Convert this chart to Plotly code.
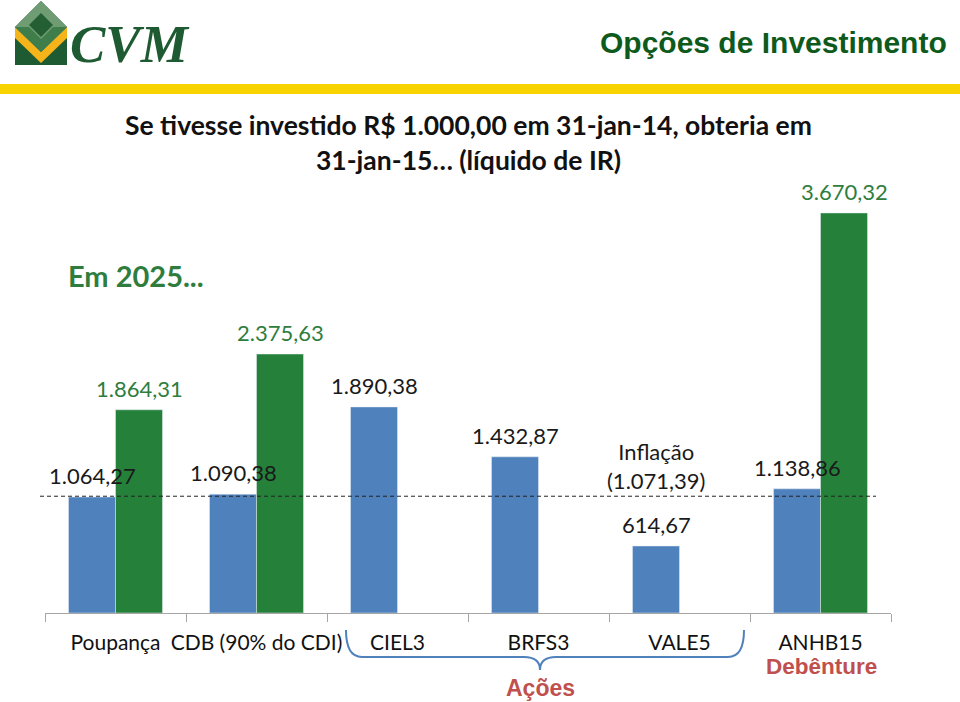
import plotly.graph_objects as go

W, H = 960, 702

categories = ["Poupança", "CDB (90% do CDI)", "CIEL3", "BRFS3", "VALE5", "ANHB15"]
valores_2015 = [1064.27, 1090.38, 1890.38, 1432.87, 614.67, 1138.86]
valores_2025 = [1864.31, 2375.63, None, None, None, 3670.32]
inflacao = 1071.39

BLUE = "#4f81bd"
GREEN = "#25803a"
GREEN_TXT = "#2e7d3e"
DARK = "#1e5a32"
RED = "#c0504d"
FONT = "Lato"


def px(x, y):
    return x / W, 1 - y / H


def br(v):
    s = f"{v:,.2f}"
    return s.replace(",", "X").replace(".", ",").replace("X", ".")


fig = go.Figure()
fig.add_trace(go.Bar(x=categories, y=valores_2015, marker_color=BLUE, hoverinfo="skip"))
fig.add_trace(go.Bar(x=categories, y=valores_2025, marker_color=GREEN, hoverinfo="skip"))

ann = []
# data labels (annotations so they sit on top of neighbouring bars)
for cat, v in zip(categories, valores_2015):
    ann.append(dict(xref="x", yref="y", x=cat, y=v, xshift=-23.5, yshift=6, text=br(v),
                    showarrow=False, yanchor="bottom",
                    font=dict(family=FONT, size=22, color="#1a1a1a")))
for cat, v in zip(categories, valores_2025):
    if v is None:
        continue
    ann.append(dict(xref="x", yref="y", x=cat, y=v, xshift=23.5, yshift=6, text=br(v),
                    showarrow=False, yanchor="bottom",
                    font=dict(family=FONT, size=22, color=GREEN_TXT)))

shapes = []
# dashed inflation line
shapes.append(dict(type="line", xref="paper", yref="y", x0=40 / W, x1=876 / W,
                   y0=inflacao, y1=inflacao, line=dict(color="#222", width=1, dash="4px,3px")))
# yellow band
x0, y0 = px(0, 84)
x1, y1 = px(960, 94)
shapes.append(dict(type="rect", xref="paper", yref="paper", x0=x0, x1=x1, y0=y0, y1=y1,
                   fillcolor="#f9d300", line_width=0))


def poly(points):
    s = ""
    for i, (a, b) in enumerate(points):
        xx, yy = px(a, b)
        s += ("M" if i == 0 else "L") + f"{xx:.5f},{yy:.5f} "
    return s + "Z"


# logo
shapes.append(dict(type="path", xref="paper", yref="paper", line_width=0, fillcolor=DARK,
                   path=poly([(15, 27), (41, 1), (67, 27), (67, 65), (15, 65)])))
shapes.append(dict(type="path", xref="paper", yref="paper", line_width=0, fillcolor="#f4b41a",
                   path=poly([(15, 27), (41, 52), (67, 27), (67, 38), (41, 63), (15, 38)])))
shapes.append(dict(type="path", xref="paper", yref="paper", line_width=0, fillcolor="#6f9c72",
                   path=poly([(41, 1), (67, 27), (41, 52), (15, 27)])))
shapes.append(dict(type="path", xref="paper", yref="paper", line_width=0, fillcolor="#3f7d4a",
                   path=poly([(15, 27), (41, 52), (67, 27), (53, 27), (41, 39), (29, 27)])))
shapes.append(dict(type="path", xref="paper", yref="paper", line_width=0, fillcolor="#245f33",
                   path=poly([(41, 13), (53, 25), (41, 37), (29, 25)])))


# brace under the stocks
def brace():
    pts = [("M", [(346, 630)]), ("Q", [(346, 657), (362, 657)]), ("L", [(524, 657)]),
           ("Q", [(540, 657), (540, 670)]), ("Q", [(540, 657), (556, 657)]), ("L", [(728, 657)]),
           ("Q", [(744, 657), (744, 630)])]
    s = ""
    for cmd, ps in pts:
        s += cmd + " ".join(f"{px(a, b)[0]:.5f},{px(a, b)[1]:.5f}" for a, b in ps) + " "
    return s


shapes.append(dict(type="path", xref="paper", yref="paper", path=brace(),
                   line=dict(color=BLUE, width=2)))


def text(x, y, t, size, color, family=FONT, bold=False, xanchor="center"):
    xx, yy = px(x, y)
    ann.append(dict(xref="paper", yref="paper", x=xx, y=yy, text=f"<b>{t}</b>" if bold else t,
                    showarrow=False, xanchor=xanchor, yanchor="middle",
                    font=dict(family=family, size=size, color=color)))


text(68, 44, "<i><b>CVM</b></i>", 53, DARK, family="Liberation Serif", xanchor="left")
text(949, 42, "Opções de Investimento", 30, "#0e5a1c", family="Liberation Sans", bold=True,
     xanchor="right")
text(468, 125, "Se tivesse investido R$ 1.000,00 em 31-jan-14, obteria em", 26.5, "#111", bold=True)
text(468, 160, "31-jan-15… (líquido de IR)", 26.5, "#111", bold=True)
text(66, 275, "Em 2025...", 29, GREEN_TXT, bold=True, xanchor="left")
text(540, 688, "Ações", 23, RED, family="Liberation Sans", bold=True)
text(821, 666, "Debênture", 22.5, RED, family="Liberation Sans", bold=True)

ann.append(dict(xref="x", yref="y", x="VALE5", y=inflacao, xshift=-23.5, yshift=0,
                text="Inflação<br>(1.071,39)", showarrow=False, yanchor="bottom",
                font=dict(family=FONT, size=22, color="#1a1a1a")))

fig.update_layout(
    width=W, height=H, margin=dict(l=0, r=0, t=0, b=0),
    paper_bgcolor="white", plot_bgcolor="white",
    barmode="group", bargap=1 / 3, bargroupgap=0, showlegend=False,
    separators=",.",
    shapes=shapes, annotations=ann,
    xaxis=dict(domain=[45 / W, 891 / W], type="category", showline=True, linecolor="#a6a6a6",
               linewidth=1, ticks="outside", tickson="boundaries", ticklen=8, tickcolor="#a6a6a6",
               tickangle=0, showgrid=False, ticklabelstandoff=11,
               tickfont=dict(family=FONT, size=21, color="#111")),
    yaxis=dict(domain=[1 - 613 / H, 1 - 177 / H], range=[0, 4000], visible=False,
               showgrid=False, zeroline=False),
)

fig.write_html("out.html", config={"displayModeBar": False},
               post_script="document.body.style.margin='0px';")
